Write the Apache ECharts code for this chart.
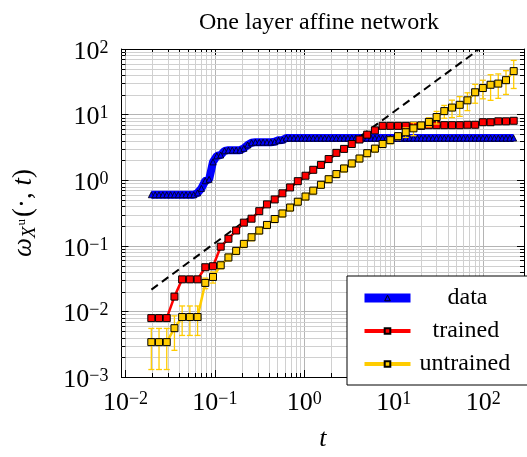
<!DOCTYPE html>
<html>
<head>
<meta charset="utf-8">
<script src="https://cdn.jsdelivr.net/npm/echarts@6/dist/echarts.min.js"></script>
<style>
  html, body { margin: 0; padding: 0; background: #fff; }
  #chart { width: 527px; height: 457px; }
</style>
</head>
<body>
<div id="chart"></div>
<script>
// Time grid of the "data" curve (finer sampling)
const tFine = [
  0.01945, 0.02148, 0.02372, 0.02619, 0.02893, 0.03194, 0.03528, 0.03895, 0.04302, 0.04750,
  0.05248, 0.05794, 0.06400, 0.07067, 0.07805, 0.08618, 0.09519, 0.1051, 0.1161, 0.1282,
  0.1416, 0.1563, 0.1727, 0.1907, 0.2106, 0.2325, 0.2568, 0.2836, 0.3132, 0.3458,
  0.3819, 0.4217, 0.4658, 0.5143, 0.5681, 0.6272, 0.6928, 0.7650, 0.8448, 0.9330,
  1.030, 1.138, 1.257, 1.388, 1.532, 1.692, 1.869, 2.064, 2.279, 2.517,
  2.780, 3.070, 3.390, 3.744, 4.134, 4.566, 5.042, 5.568, 6.149, 6.790,
  7.499, 8.281, 9.146, 10.10, 11.15, 12.32, 13.60, 15.02, 16.59, 18.32,
  20.23, 22.34, 24.67, 27.25, 30.09, 33.23, 36.70, 40.52, 44.76, 49.42,
  54.58, 60.28, 66.57, 73.51, 81.19, 89.65, 99.0, 109.3, 120.8, 133.3,
  147.2, 162.6, 179.6, 198.3, 219.0
];
const dataY = [
  0.6, 0.6, 0.6, 0.6, 0.6, 0.6, 0.6, 0.6, 0.6, 0.6,
  0.6, 0.6, 0.64, 0.75, 0.98, 1.03, 1.9, 2.35, 2.42, 2.8,
  2.87, 2.87, 2.87, 2.87, 3.06, 3.44, 3.72, 3.8, 3.8, 3.8,
  3.8, 3.8, 3.85, 4.08, 4.1, 4.38, 4.38, 4.38, 4.38, 4.38,
  4.38, 4.38, 4.38, 4.38, 4.38, 4.38, 4.38, 4.38, 4.38, 4.38,
  4.38, 4.38, 4.38, 4.38, 4.38, 4.38, 4.38, 4.38, 4.38, 4.38,
  4.38, 4.38, 4.38, 4.38, 4.38, 4.38, 4.38, 4.38, 4.38, 4.38,
  4.38, 4.38, 4.38, 4.38, 4.38, 4.38, 4.38, 4.38, 4.38, 4.38,
  4.38, 4.38, 4.38, 4.38, 4.38, 4.38, 4.38, 4.38, 4.38, 4.38,
  4.38, 4.38, 4.38, 4.38, 4.38
];

// Time grid of the network curves
const tCoarse = [
  0.01945, 0.02372, 0.02893, 0.03528, 0.04302, 0.05248, 0.06400, 0.07805, 0.09519, 0.1161,
  0.1416, 0.1727, 0.2106, 0.2568, 0.3132, 0.3819, 0.4658, 0.5681, 0.6928, 0.8448,
  1.030, 1.257, 1.532, 1.869, 2.279, 2.780, 3.390, 4.134, 5.042, 6.149,
  7.499, 9.146, 11.15, 13.60, 16.59, 20.23, 24.67, 30.09, 36.70, 44.76,
  54.58, 66.57, 81.19, 99.0, 120.8, 147.2, 179.6, 219.0
];
const trainedY = [
  0.0079, 0.0079, 0.0079, 0.0168, 0.0308, 0.0308, 0.0308, 0.0471, 0.0488, 0.097,
  0.128, 0.171, 0.2255, 0.259, 0.337, 0.428, 0.509, 0.631, 0.776, 0.966,
  1.17, 1.44, 1.71, 2.10, 2.61, 3.0, 3.56, 4.17, 4.95, 5.75,
  6.74, 6.74, 6.74, 6.74, 6.78, 6.74, 6.9, 6.9, 6.9, 6.9,
  6.9, 7.0, 7.0, 7.65, 7.65, 7.9, 7.9, 8.05
];
const untrainedY = [
  0.0034, 0.0034, 0.0034, 0.00555, 0.0082, 0.0082, 0.0082, 0.0272, 0.0335, 0.0505,
  0.0665, 0.0836, 0.107, 0.135, 0.171, 0.208, 0.256, 0.311, 0.383, 0.47,
  0.564, 0.693, 0.851, 1.035, 1.24, 1.51, 1.80, 2.14, 2.58, 3.03,
  3.56, 4.08, 4.69, 5.38, 6.17, 6.84, 7.73, 9.18, 11.3, 12.8,
  14.1, 16.5, 21.9, 25.4, 28.5, 29.7, 33.5, 46
];
const untrainedErr = [
  0.0021, 0.0021, 0.0021, 0.003, 0.0039, 0.0039, 0.0039, 0.005, 0.0065, 0.006,
  0.008, 0.010, 0.013, 0.016, 0.02, 0.025, 0.03, 0.037, 0.045, 0.055,
  0.066, 0.08, 0.1, 0.12, 0.15, 0.18, 0.21, 0.25, 0.3, 0.36,
  0.42, 0.5, 0.55, 0.9, 1.4, 0.6, 1.2, 2.0, 2.5, 3.8,
  4.7, 5.0, 7.0, 8.0, 12, 12, 13.2, 21
];

// Linear reference guide (dashed)
const refT = [0.0195, 88];
const refY = [0.0215, 97];

// Decades that carry tick labels
const xDecades = [-2, -1, 0, 1, 2];
const yDecades = [-3, -2, -1, 0, 1, 2];

const serif = "'Liberation Serif', 'DejaVu Serif', serif";
const BLUE = '#0000ff', RED = '#ff0000', GOLD = '#ffcc00';
const MAJOR_GRID = '#b4b4b4', MINOR_GRID = '#d0d0d0';

function minorValues(decades) {
  const out = [];
  for (let i = 0; i < decades.length - 1; i++) {
    for (let m = 2; m <= 9; m++) out.push(+(m * Math.pow(10, decades[i])).toPrecision(6));
  }
  return out;
}
const minorX = minorValues(xDecades);
const minorY = minorValues(yDecades);

function powLabel(v) {
  const e = Math.log10(v);
  const r = Math.round(e);
  if (Math.abs(e - r) > 1e-6) return '';
  return '{b|10}{s|' + (r < 0 ? '\u2212' + (-r) : r) + '}';
}
const labelRich = {
  b: { fontFamily: serif, fontSize: 26, lineHeight: 26, padding: [6, 0, 0, 0], color: '#000', verticalAlign: 'middle' },
  s: { fontFamily: serif, fontSize: 18, lineHeight: 18, padding: [0, 0, 2, 0], color: '#000', verticalAlign: 'middle' }
};

const chart = echarts.init(document.getElementById('chart'), null, { renderer: 'canvas' });

function baseX(extra) {
  return Object.assign({
    type: 'log', logBase: 10, min: 0.009028, max: 285.5,
    axisLine: { show: true, lineStyle: { color: '#000', width: 1 } },
    axisTick: { show: true, inside: true, length: 7, lineStyle: { color: '#000', width: 1 } },
    splitLine: { show: false },
    axisLabel: { show: false }
  }, extra);
}
function baseY(extra) {
  return Object.assign({
    type: 'log', logBase: 10, min: 0.001, max: 100,
    axisLine: { show: true, lineStyle: { color: '#000', width: 1 } },
    axisTick: { show: true, inside: true, length: 7, lineStyle: { color: '#000', width: 1 } },
    splitLine: { show: false },
    axisLabel: { show: false }
  }, extra);
}

function renderMinorX(params, api) {
  const cs = params.coordSys;
  const x = Math.round(api.coord([api.value(0), 1])[0]) + 0.5;
  const top = cs.y, bot = cs.y + cs.height;
  return { type: 'group', children: [
    { type: 'line', shape: { x1: x, y1: top, x2: x, y2: bot }, style: { stroke: MINOR_GRID, lineWidth: 1 } },
    { type: 'line', shape: { x1: x, y1: bot, x2: x, y2: bot - 4 }, style: { stroke: '#000', lineWidth: 1 } },
    { type: 'line', shape: { x1: x, y1: top, x2: x, y2: top + 4 }, style: { stroke: '#000', lineWidth: 1 } }
  ] };
}
function renderMinorY(params, api) {
  const cs = params.coordSys;
  const y = Math.round(api.coord([1, api.value(1)])[1]) + 0.5;
  const l = cs.x, r = cs.x + cs.width;
  return { type: 'group', children: [
    { type: 'line', shape: { x1: l, y1: y, x2: r, y2: y }, style: { stroke: MINOR_GRID, lineWidth: 1 } },
    { type: 'line', shape: { x1: l, y1: y, x2: l + 4, y2: y }, style: { stroke: '#000', lineWidth: 1 } },
    { type: 'line', shape: { x1: r, y1: y, x2: r - 4, y2: y }, style: { stroke: '#000', lineWidth: 1 } }
  ] };
}
function renderErr(params, api) {
  const t = api.value(0);
  const lo = api.coord([t, api.value(1)]);
  const hi = api.coord([t, api.value(2)]);
  const w = 3;
  const st = { stroke: GOLD, lineWidth: 1.3 };
  return { type: 'group', children: [
    { type: 'line', shape: { x1: lo[0], y1: lo[1], x2: hi[0], y2: hi[1] }, style: st },
    { type: 'line', shape: { x1: lo[0] - w, y1: lo[1], x2: lo[0] + w, y2: lo[1] }, style: st },
    { type: 'line', shape: { x1: hi[0] - w, y1: hi[1], x2: hi[0] + w, y2: hi[1] }, style: st }
  ] };
}

const pairs = (xs, ys) => xs.map((x, i) => [x, ys[i]]);

chart.setOption({
  animation: false,
  backgroundColor: '#fff',
  title: {
    text: 'One layer affine network',
    left: 194, top: 6,
    textStyle: { fontFamily: serif, fontSize: 24, fontWeight: 'normal', color: '#000' }
  },
  grid: { left: 121, right: 1, top: 49, bottom: 72, containLabel: false },
  xAxis: [
    baseX({
      position: 'bottom',
      splitLine: { show: true, lineStyle: { color: MAJOR_GRID, width: 1 } },
      axisLabel: { show: true, margin: 10, formatter: powLabel, rich: labelRich, showMinLabel: true, showMaxLabel: true },
      name: 't', nameLocation: 'middle', nameGap: 49,
      nameTextStyle: { fontFamily: serif, fontSize: 26, fontStyle: 'italic', color: '#000' }
    }),
    baseX({ position: 'top' })
  ],
  yAxis: [
    baseY({
      position: 'left',
      splitLine: { show: true, lineStyle: { color: MAJOR_GRID, width: 1 } },
      axisLabel: { show: true, margin: 13, formatter: powLabel, rich: labelRich },
      name: '{w|\u03c9}{x|X}{u|u}{n|(\u00b7, }{w|t}{n|)}',
      nameLocation: 'middle', nameGap: 86, nameRotate: 90,
      nameTextStyle: {
        rich: {
          w: { fontFamily: serif, fontSize: 27, fontStyle: 'italic', lineHeight: 24, color: '#000', verticalAlign: 'middle' },
          x: { fontFamily: serif, fontSize: 19, fontStyle: 'italic', lineHeight: 24, padding: [12, 0, 0, 0], color: '#000', verticalAlign: 'middle' },
          u: { fontFamily: serif, fontSize: 13, lineHeight: 13, padding: [0, 2, 4, 1], color: '#000', verticalAlign: 'middle' },
          n: { fontFamily: serif, fontSize: 27, lineHeight: 24, color: '#000', verticalAlign: 'middle' }
        }
      }
    }),
    baseY({ position: 'right' })
  ],
  legend: {
    orient: 'vertical', left: 347, top: 276,
    padding: [10, 30, 9, 13], itemGap: 9, itemWidth: 46, itemHeight: 7,
    backgroundColor: '#fff', borderColor: '#000', borderWidth: 1, borderRadius: 0,
    textStyle: { fontFamily: serif, fontSize: 24, color: '#000' },
    data: [
      { name: 'data', lineStyle: { width: 9 }, itemStyle: { color: BLUE, borderColor: '#000', borderWidth: 1 }, textStyle: { padding: [0, 0, 0, 32] } },
      { name: 'trained', lineStyle: { width: 4 }, textStyle: { padding: [0, 0, 0, 17] } },
      { name: 'untrained', lineStyle: { width: 4 }, textStyle: { padding: [0, 0, 0, 4] } }
    ]
  },
  series: [
    {
      type: 'custom', name: 'minor-x', silent: true, z: 1,
      renderItem: renderMinorX, data: minorX.map(v => [v, 1]), encode: { x: 0, y: 1 }
    },
    {
      type: 'custom', name: 'minor-y', silent: true, z: 1,
      renderItem: renderMinorY, data: minorY.map(v => [1, v]), encode: { x: 0, y: 1 }
    },
    {
      type: 'line', name: 'data', data: pairs(tFine, dataY),
      symbol: 'triangle', symbolSize: 6,
      lineStyle: { color: BLUE, width: 8 },
      itemStyle: { color: BLUE, borderColor: '#000', borderWidth: 0.8 },
      z: 3
    },
    {
      type: 'line', name: 'reference', data: pairs(refT, refY),
      symbol: 'none', silent: true,
      lineStyle: { color: '#000', width: 2, type: [8, 5] },
      z: 3
    },
    {
      type: 'line', name: 'trained', data: pairs(tCoarse, trainedY),
      symbol: 'rect', symbolSize: 7,
      lineStyle: { color: RED, width: 2.5 },
      itemStyle: { color: RED, borderColor: '#000', borderWidth: 1 },
      z: 4
    },
    {
      type: 'custom', name: 'untrained-err', silent: true, z: 5,
      renderItem: renderErr,
      data: tCoarse.map((t, i) => [t, untrainedY[i] - untrainedErr[i], untrainedY[i] + untrainedErr[i]]),
      encode: { x: 0, y: [1, 2] }
    },
    {
      type: 'line', name: 'untrained', data: pairs(tCoarse, untrainedY),
      symbol: 'rect', symbolSize: 7,
      lineStyle: { color: GOLD, width: 2.5 },
      itemStyle: { color: GOLD, borderColor: '#000', borderWidth: 1 },
      z: 5
    }
  ]
});
</script>
</body>
</html>
